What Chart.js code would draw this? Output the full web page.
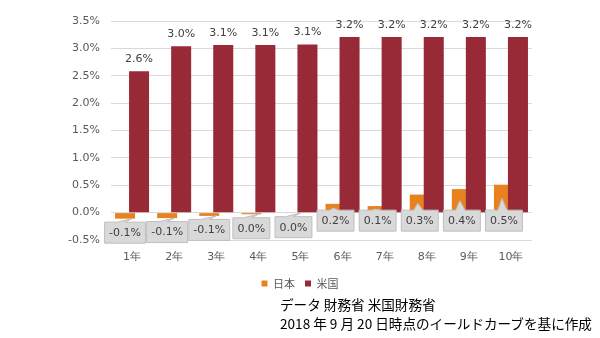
<!DOCTYPE html>
<html lang="ja">
<head>
<meta charset="utf-8">
<title>日米イールドカーブ</title>
<script src="https://cdn.jsdelivr.net/npm/chart.js@4"></script>
<style>
  html, body { margin: 0; padding: 0; background: #fff; }
  #wrap { position: relative; width: 600px; height: 338px; }
  #note {
    position: absolute; left: 280px; top: 295px;
    font: 13.6px "Noto Sans CJK JP", sans-serif; line-height: 19px; color: #000;
    white-space: nowrap;
  }
</style>
</head>
<body>
<div id="wrap">
  <canvas id="yieldChart" width="600" height="338"></canvas>
  <div id="note">データ 財務省 米国財務省<br>2018 年 9 月 20 日時点のイールドカーブを基に作成</div>
</div>
<script>
const terms = ['1年', '2年', '3年', '4年', '5年', '6年', '7年', '8年', '9年', '10年'];
const japanYields = [-0.11, -0.10, -0.06, -0.03, -0.01, 0.16, 0.12, 0.33, 0.43, 0.51];
const usYields = [2.58, 3.04, 3.06, 3.06, 3.07, 3.21, 3.21, 3.21, 3.21, 3.21];
const yTicks = [-0.5, 0, 0.5, 1.0, 1.5, 2.0, 2.5, 3.0, 3.5];

const TICK_COLOR = '#595959';
const LABEL_COLOR = '#404040';
const FONT = '"DejaVu Sans", Verdana, sans-serif';

const pct = v => (Math.round(v * 10) / 10).toFixed(1) + '%';

// 日本のバーを米国のバーの下に描く
const drawOrder = {
  id: 'drawOrder',
  beforeDatasetDraw(chart, args) {
    if (args.index === 0) return false;
    if (args.index === 1) chart.getDatasetMeta(0).controller.draw();
  }
};

// 米国は上にテキスト、日本は吹き出し付きのラベル
const valueLabels = {
  id: 'valueLabels',
  afterDatasetsDraw(chart) {
    const ctx = chart.ctx;
    ctx.save();
    ctx.font = '11px ' + FONT;
    ctx.textAlign = 'center';
    ctx.textBaseline = 'middle';

    chart.getDatasetMeta(1).data.forEach((bar, i) => {
      ctx.fillStyle = LABEL_COLOR;
      ctx.fillText(pct(usYields[i]), bar.x, bar.y - 12);
    });

    chart.getDatasetMeta(0).data.forEach((bar, i) => {
      const v = japanYields[i];
      const text = pct(v);
      const w = ctx.measureText(text).width + 9;
      const h = 21;
      const zero = bar.base;
      let top, ax, ay, b1, b2;
      if (v >= 0) {
        top = zero - 2;
        ax = bar.x - 2;
        ay = (bar.y + zero) / 2;
        b1 = ax - 4;
        b2 = ax + 5;
      } else {
        top = bar.y + 3.5;
        ax = bar.x + 7;
        ay = bar.y;
        b1 = bar.x - 8;
        b2 = bar.x;
      }
      const left = bar.x - w / 2;
      ctx.beginPath();
      ctx.moveTo(left, top);
      ctx.lineTo(b1, top);
      ctx.lineTo(ax, ay);
      ctx.lineTo(b2, top);
      ctx.lineTo(left + w, top);
      ctx.lineTo(left + w, top + h);
      ctx.lineTo(left, top + h);
      ctx.closePath();
      ctx.fillStyle = '#d9d9d9';
      ctx.fill();
      ctx.strokeStyle = '#bfbfbf';
      ctx.lineWidth = 1;
      ctx.stroke();
      ctx.fillStyle = LABEL_COLOR;
      ctx.fillText(text, bar.x, top + h / 2 + 0.5);
    });
    ctx.restore();
  }
};

new Chart(document.getElementById('yieldChart'), {
  type: 'bar',
  data: {
    labels: terms,
    datasets: [
      {
        label: '日本',
        data: japanYields,
        backgroundColor: '#e8821e',
        categoryPercentage: 0.665,
        barPercentage: 1.43
      },
      {
        label: '米国',
        data: usYields,
        backgroundColor: '#972a36',
        categoryPercentage: 0.665,
        barPercentage: 1.43
      }
    ]
  },
  options: {
    responsive: false,
    animation: false,
    layout: { padding: { top: 21, right: 0, bottom: 39, left: 0 } },
    scales: {
      x: {
        grid: { display: false },
        border: { display: false },
        ticks: { color: TICK_COLOR, font: { size: 11, family: FONT }, padding: 3 },
        afterFit: scale => { scale.height = 28; }
      },
      y: {
        min: yTicks[0],
        max: yTicks[yTicks.length - 1],
        afterBuildTicks: scale => { scale.ticks = yTicks.map(v => ({ value: v })); },
        grid: { color: '#d9d9d9', drawTicks: false },
        border: { display: false },
        ticks: {
          color: TICK_COLOR,
          font: { size: 11, family: FONT },
          padding: 11,
          callback: v => v.toFixed(1) + '%'
        },
        afterFit: scale => { scale.width = 111; }
      },
      // 右側の余白（凡例をキャンバス中央に置くため）
      yRight: {
        position: 'right',
        grid: { display: false },
        border: { display: false },
        ticks: { display: false },
        afterFit: scale => { scale.width = 68; }
      }
    },
    plugins: {
      legend: {
        position: 'bottom',
        labels: {
          boxWidth: 6,
          boxHeight: 6,
          padding: 10,
          color: TICK_COLOR,
          font: { size: 11, family: '"Noto Sans CJK JP", sans-serif' }
        }
      },
      tooltip: { enabled: false }
    }
  },
  plugins: [drawOrder, valueLabels]
});
</script>
</body>
</html>
